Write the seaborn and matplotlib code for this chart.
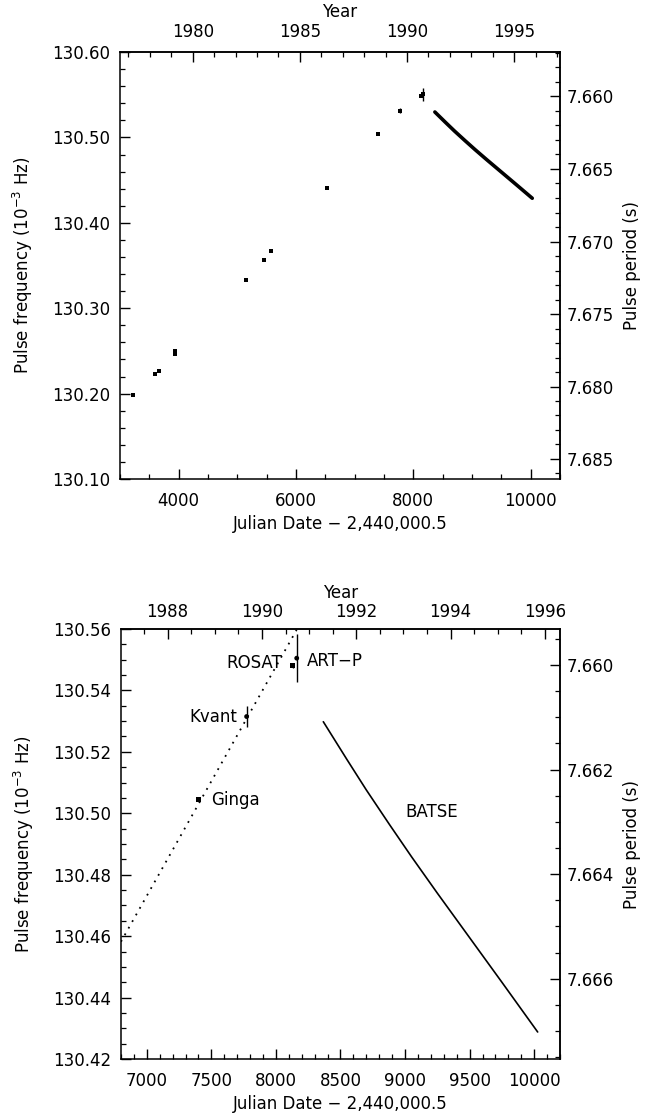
import numpy as np
import pandas as pd
import matplotlib
matplotlib.use("Agg")
import matplotlib.pyplot as plt
import seaborn as sns
from matplotlib.ticker import MultipleLocator, FormatStrFormatter, FixedLocator

# ---------------- data ----------------
# historical (pre-1989) pulse frequency measurements, JD - 2,440,000.5 and mHz
hist_jd = [3227, 3597, 3659, 3932, 3943, 5148, 5449, 5568, 6523]
hist_f = [130.198, 130.2226, 130.2265, 130.247, 130.2499, 130.333, 130.3568, 130.367, 130.441]

# labelled measurements
obs_names = ["Ginga", "Kvant", "ROSAT", "ART-P"]
obs_jd = [7399, 7773, 8130, 8161]
obs_f = [130.5045, 130.5315, 130.5480, 130.5505]
obs_err = [0.0004, 0.0034, 0.0006, 0.0079]

# BATSE spin-down track
batse_jd = [8367, 8550, 8700, 8880, 9051, 9250, 9500, 9750, 10027]
batse_f = [130.5298, 130.5175, 130.5076, 130.4963, 130.4858, 130.4740, 130.4595, 130.4450, 130.4288]

# dotted spin-up extrapolation (bottom panel)
fit_jd = [6800, 8160]
fit_f = [130.4582, 130.5597]

top_xlim = [3000, 10500]
top_ylim = [130.10, 130.60]
bot_xlim = [6800, 10200]
bot_ylim = [130.42, 130.56]

top_year_ticks = [1980, 1985, 1990, 1995]
bot_year_ticks = [1988, 1990, 1992, 1994, 1996]
top_period_ticks = [7.660, 7.665, 7.670, 7.675, 7.680, 7.685]
top_period_minor = [7.657, 7.658, 7.659, 7.661, 7.662, 7.663, 7.664, 7.666, 7.667, 7.668, 7.669,
                    7.671, 7.672, 7.673, 7.674, 7.676, 7.677, 7.678, 7.679, 7.681, 7.682,
                    7.683, 7.684, 7.686]
bot_period_ticks = [7.660, 7.662, 7.664, 7.666]
bot_period_minor = [7.6595, 7.6605, 7.661, 7.6615, 7.6625, 7.663, 7.6635, 7.6645, 7.665,
                    7.6655, 7.6665, 7.667, 7.6675]

# ---------------- style ----------------
sns.set_theme(style="ticks")
plt.rcParams.update({
    "font.family": ["DejaVu Sans"],
    "font.size": 12,
    "axes.edgecolor": "black",
    "axes.linewidth": 1.1,
    "axes.labelcolor": "black",
    "xtick.color": "black",
    "ytick.color": "black",
    "xtick.direction": "in",
    "ytick.direction": "in",
    "xtick.labelsize": 12,
    "ytick.labelsize": 12,
    "axes.labelsize": 12,
    "text.color": "black",
})


def jd2yr(x):
    return 2000.0 + (np.asarray(x, dtype=float) - 11544.5) / 365.25


def yr2jd(y):
    return 11544.5 + (np.asarray(y, dtype=float) - 2000.0) * 365.25


def f2p(f):
    f = np.asarray(f, dtype=float)
    with np.errstate(divide="ignore", invalid="ignore"):
        return 1000.0 / f


def p2f(p):
    p = np.asarray(p, dtype=float)
    with np.errstate(divide="ignore", invalid="ignore"):
        return 1000.0 / p


def style_ticks(ax, which_axis):
    ax.tick_params(axis=which_axis, which="major", length=7.5, width=1.0)
    ax.tick_params(axis=which_axis, which="minor", length=3.8, width=0.9)


fig = plt.figure(figsize=(6.48, 11.19), dpi=100)
ax1 = fig.add_axes([0.1852, 0.5719, 0.6790, 0.3816])
ax2 = fig.add_axes([0.1867, 0.0536, 0.6775, 0.3843])

df_obs = pd.DataFrame({"jd": obs_jd, "f": obs_f, "err": obs_err, "name": obs_names})

# ---------------- top panel ----------------
sns.scatterplot(x=hist_jd, y=hist_f, marker="s", s=11, color="black",
                linewidth=0, ax=ax1, legend=False)
sns.scatterplot(data=df_obs, x="jd", y="f", marker="s", s=11, color="black",
                linewidth=0, ax=ax1, legend=False)
ax1.errorbar(df_obs["jd"], df_obs["f"], yerr=df_obs["err"], fmt="none",
             ecolor="black", elinewidth=1.0, capsize=0)
sns.lineplot(x=batse_jd, y=batse_f, color="black", lw=2.6, ax=ax1,
             estimator=None, sort=False)

ax1.set_xlim(top_xlim)
ax1.set_ylim(top_ylim)
ax1.xaxis.set_major_locator(MultipleLocator(2000))
ax1.xaxis.set_minor_locator(MultipleLocator(500))
ax1.yaxis.set_major_locator(MultipleLocator(0.10))
ax1.yaxis.set_minor_locator(MultipleLocator(0.02))
ax1.yaxis.set_major_formatter(FormatStrFormatter("%.2f"))
ax1.tick_params(axis="x", pad=9)
ax1.tick_params(axis="y", pad=7)
style_ticks(ax1, "both")
ax1.set_xlabel("Julian Date \u2212 2,440,000.5", labelpad=4)
ax1.set_ylabel("Pulse frequency (10$^{-3}$ Hz)", labelpad=12)

s1x = ax1.secondary_xaxis("top", functions=(jd2yr, yr2jd))
s1x.xaxis.set_major_locator(FixedLocator(top_year_ticks))
s1x.xaxis.set_minor_locator(MultipleLocator(1))
s1x.xaxis.set_major_formatter(FormatStrFormatter("%d"))
s1x.tick_params(axis="x", which="both", direction="in", pad=8)
style_ticks(s1x, "x")
s1x.set_xlabel("Year", labelpad=4)

s1y = ax1.secondary_yaxis("right", functions=(f2p, p2f))
s1y.yaxis.set_major_locator(FixedLocator(top_period_ticks))
s1y.yaxis.set_minor_locator(FixedLocator(top_period_minor))
s1y.yaxis.set_major_formatter(FormatStrFormatter("%.3f"))
s1y.tick_params(axis="y", which="both", direction="in", pad=5)
style_ticks(s1y, "y")
s1y.set_ylabel("Pulse period (s)", labelpad=6)

# ---------------- bottom panel ----------------
sns.lineplot(x=fit_jd, y=fit_f, color="black", lw=1.3, linestyle=(0, (1, 3.2)),
             ax=ax2, estimator=None, sort=False)
sns.lineplot(x=batse_jd, y=batse_f, color="black", lw=1.2, ax=ax2,
             estimator=None, sort=False)
ax2.errorbar(df_obs["jd"], df_obs["f"], yerr=df_obs["err"], fmt="none",
             ecolor="black", elinewidth=1.0, capsize=0)
sns.scatterplot(data=df_obs, x="jd", y="f", style="name",
                markers={"Ginga": "s", "Kvant": "o", "ROSAT": "s", "ART-P": "o"},
                s=12, color="black", linewidth=0, ax=ax2, legend=False)

label_x = [7497, 7698, 8047, 8241]
label_y = [130.5044, 130.5312, 130.5488, 130.5497]
label_ha = ["left", "right", "right", "left"]
for name, lx, ly, ha in zip(obs_names, label_x, label_y, label_ha):
    ax2.text(lx, ly, "ART\u2212P" if name == "ART-P" else name, ha=ha, va="center", fontsize=12)
ax2.text(9000, 130.5003, "BATSE", ha="left", va="center", fontsize=12)

ax2.set_xlim(bot_xlim)
ax2.set_ylim(bot_ylim)
ax2.xaxis.set_major_locator(MultipleLocator(500))
ax2.xaxis.set_minor_locator(MultipleLocator(100))
ax2.yaxis.set_major_locator(MultipleLocator(0.02))
ax2.yaxis.set_minor_locator(MultipleLocator(0.005))
ax2.yaxis.set_major_formatter(FormatStrFormatter("%.2f"))
ax2.tick_params(axis="x", pad=9)
ax2.tick_params(axis="y", pad=7)
style_ticks(ax2, "both")
ax2.set_xlabel("Julian Date \u2212 2,440,000.5", labelpad=4)
ax2.set_ylabel("Pulse frequency (10$^{-3}$ Hz)", labelpad=12)

s2x = ax2.secondary_xaxis("top", functions=(jd2yr, yr2jd))
s2x.xaxis.set_major_locator(FixedLocator(bot_year_ticks))
s2x.xaxis.set_minor_locator(MultipleLocator(0.5))
s2x.xaxis.set_major_formatter(FormatStrFormatter("%d"))
s2x.tick_params(axis="x", which="both", direction="in", pad=6)
style_ticks(s2x, "x")
s2x.set_xlabel("Year", labelpad=3)

s2y = ax2.secondary_yaxis("right", functions=(f2p, p2f))
s2y.yaxis.set_major_locator(FixedLocator(bot_period_ticks))
s2y.yaxis.set_minor_locator(FixedLocator(bot_period_minor))
s2y.yaxis.set_major_formatter(FormatStrFormatter("%.3f"))
s2y.tick_params(axis="y", which="both", direction="in", pad=5)
style_ticks(s2y, "y")
s2y.set_ylabel("Pulse period (s)", labelpad=6)

for ax in (ax1, ax2):
    for sp in ax.spines.values():
        sp.set_visible(True)
        sp.set_color("black")
        sp.set_linewidth(1.1)

fig.savefig("out.png", dpi=100, facecolor="white")
